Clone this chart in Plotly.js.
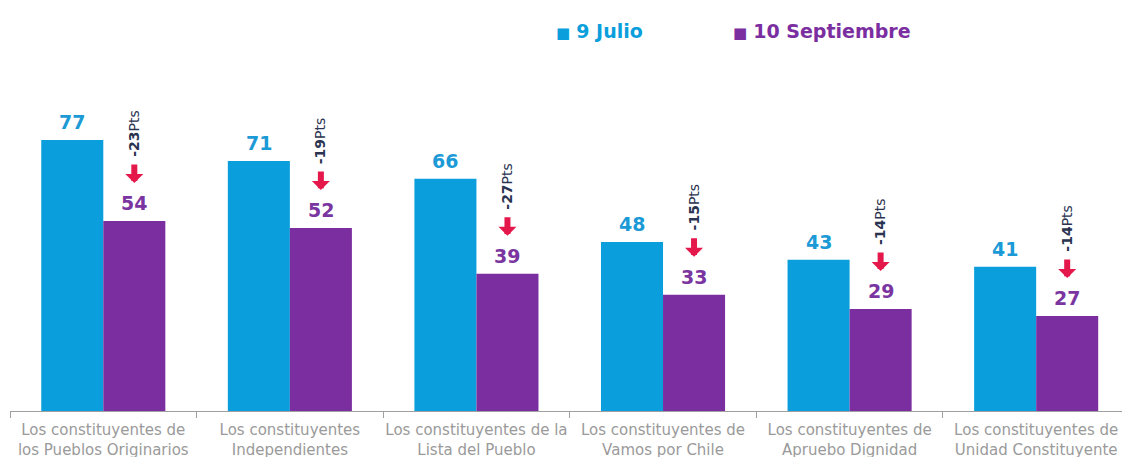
<!DOCTYPE html>
<html>
<head>
<meta charset="utf-8">
<script src="https://cdn.plot.ly/plotly-3.0.1.min.js"></script>
<style>html,body{margin:0;padding:0;background:#fff;}#chart{width:1122px;height:457px;}</style>
</head>
<body>
<div id="chart"></div>
<script>
// ---- data ----
const categories = [
  "Los constituyentes de<br>los Pueblos Originarios",
  "Los constituyentes<br>Independientes",
  "Los constituyentes de la<br>Lista del Pueblo",
  "Los constituyentes de<br>Vamos por Chile",
  "Los constituyentes de<br>Apruebo Dignidad",
  "Los constituyentes de<br>Unidad Constituyente"
];
const seriesNames = ["9 Julio", "10 Septiembre"];
const julio = [77, 71, 66, 48, 43, 41];
const septiembre = [54, 52, 39, 33, 29, 27];

// ---- styles ----
const BLUE = "#0a9fdc";
const PURPLE = "#7b2ea0";
const RED = "#e5184c";
const FONT = "DejaVu Sans, sans-serif";
const BARGAP = 0.335;
const barOffset = (1 - BARGAP) / 4; // centre offset of each bar in group

const traces = [
  {type: "bar", name: seriesNames[0], x: categories, y: julio, marker: {color: BLUE}, hoverinfo: "none"},
  {type: "bar", name: seriesNames[1], x: categories, y: septiembre, marker: {color: PURPLE}, hoverinfo: "none"}
];

const annotations = [];
categories.forEach((c, i) => {
  annotations.push({x: i - barOffset, y: julio[i], xref: "x", yref: "y", text: "<b>" + julio[i] + "</b>",
    showarrow: false, yanchor: "bottom", yshift: 5, font: {family: FONT, size: 19, color: "#1c9ad6"}});
  annotations.push({x: i + barOffset, y: septiembre[i], xref: "x", yref: "y", text: "<b>" + septiembre[i] + "</b>",
    showarrow: false, yanchor: "bottom", yshift: 5, font: {family: FONT, size: 19, color: "#7a35a0"}});
  // red down arrow
  annotations.push({x: i + barOffset, y: septiembre[i], xref: "x", yref: "y", text: "", showarrow: true,
    ax: 0, ay: -20, yshift: 38, arrowcolor: RED, arrowwidth: 6, arrowhead: 1, arrowsize: 0.5, standoff: 0});
  // rotated difference label
  const diff = septiembre[i] - julio[i];
  annotations.push({x: i + barOffset, y: septiembre[i], xref: "x", yref: "y",
    text: "<b>" + diff + "</b>Pts", textangle: -90, showarrow: false,
    yanchor: "bottom", yshift: 62, font: {family: FONT, size: 14, color: "#2a3350"}});
});
// legend as annotations
const legendX = [0.489, 0.648];
const legendColors = [BLUE, PURPLE];
seriesNames.forEach((n, k) => {
  annotations.push({xref: "paper", yref: "paper", x: legendX[k], y: 1.08, xanchor: "left", yanchor: "middle",
    showarrow: false, text: "<span style='font-size:15px'>■</span> <b>" + n + "</b>",
    font: {family: FONT, size: 19, color: legendColors[k]}});
});

const layout = {
  width: 1122, height: 457,
  margin: {l: 10, r: 0, t: 59, b: 46, pad: 0},
  paper_bgcolor: "#fff", plot_bgcolor: "#fff",
  barmode: "group", bargap: BARGAP, bargroupgap: 0,
  showlegend: false,
  font: {family: FONT},
  xaxis: {
    type: "category", range: [-0.5, 5.46], showline: true, linecolor: "#a0a0a0", linewidth: 1,
    ticks: "outside", tickson: "boundaries", ticklen: 6, tickcolor: "#a0a0a0",
    tickangle: 0, ticklabelstandoff: 5,
    tickfont: {family: FONT, size: 15, color: "#9a9a9a"}, showgrid: false, zeroline: false, fixedrange: true
  },
  yaxis: {range: [0, 100], visible: false, showgrid: false, zeroline: false, fixedrange: true},
  annotations: annotations
};

Plotly.newPlot("chart", traces, layout, {displayModeBar: false, staticPlot: true});
</script>
</body>
</html>
